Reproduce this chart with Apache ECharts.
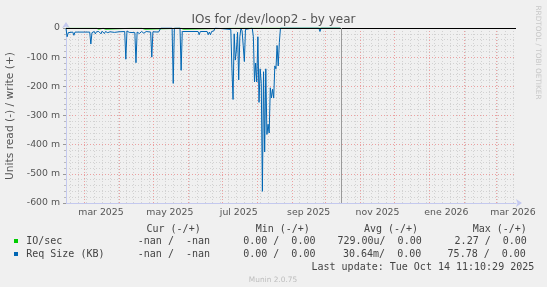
<!DOCTYPE html>
<html><head><meta charset="utf-8">
<script src="https://cdn.jsdelivr.net/npm/echarts@6/dist/echarts.min.js"></script>
<style>html,body{margin:0;padding:0;background:#f0f0f0}#c{width:547px;height:287px}</style>
</head><body><div id="c"></div>
<script>
// ---- data ----
const monthStarts = ['2025-03-01','2025-04-01','2025-05-01','2025-06-01','2025-07-01','2025-08-01','2025-09-01','2025-10-01','2025-11-01','2025-12-01','2026-01-01','2026-02-01','2026-03-01'];
const tickDates = ['2025-03-16','2025-05-16','2025-07-16','2025-09-16','2025-11-16','2026-01-16','2026-03-16'];
const tickLabels = ['mar 2025','may 2025','jul 2025','sep 2025','nov 2025','ene 2026','mar 2026'];
const yTicks = [-600,-500,-400,-300,-200,-100,0];
const nowDate = '2025-10-14T11:10:29';
const xStart = '2025-02-13T00:00:00';
const xEnd = '2026-03-18T16:00:00';

// Req Size (KB), read side (negative), in milli units
const reqDates = ['2025-02-13','2025-02-14','2025-02-15','2025-02-16','2025-02-19','2025-02-20','2025-02-21','2025-03-01','2025-03-06','2025-03-07','2025-03-08','2025-03-10','2025-03-11','2025-03-12','2025-03-13','2025-03-14','2025-03-16','2025-03-17','2025-03-19','2025-03-20','2025-03-22','2025-03-24','2025-03-28','2025-04-01','2025-04-06','2025-04-07','2025-04-08','2025-04-10','2025-04-15','2025-04-16','2025-04-17','2025-04-19','2025-04-21','2025-04-23','2025-04-25','2025-04-29','2025-04-30','2025-05-01','2025-05-06','2025-05-07','2025-05-08','2025-05-18','2025-05-19','2025-05-20','2025-05-25','2025-05-26','2025-05-27','2025-06-10','2025-06-11','2025-06-12','2025-06-18','2025-06-19','2025-06-20','2025-06-21','2025-06-22','2025-06-24','2025-06-25','2025-07-09'];
const reqValues = [-2,-30,-16,-14,-14,-25,-14,-14,-14,-55,-16,-12,-20,-13,-18,-12,-20,-11,-19,-12,-16,-13,-15,-13,-12,-107,-10,-15,-16,-119,-14,-19,-12,-18,-12,-14,-100,-13,-14,-8,0,0,-190,0,0,-145,-12,-12,-23,-12,-12,-23,-14,-23,-12,-10,0,-5];
const burstDates = ['2025-07-10','2025-07-11','2025-07-12','2025-07-13','2025-07-14','2025-07-15','2025-07-16','2025-07-17','2025-07-18','2025-07-19','2025-07-20','2025-07-21','2025-07-22','2025-07-23','2025-07-28','2025-07-29','2025-07-30','2025-07-31','2025-08-01','2025-08-02','2025-08-03','2025-08-04','2025-08-05','2025-08-06','2025-08-07','2025-08-08','2025-08-09','2025-08-10','2025-08-11','2025-08-12','2025-08-13','2025-08-14','2025-08-15','2025-08-16','2025-08-17','2025-08-18','2025-08-19','2025-08-20','2025-08-21','2025-08-22','2025-09-25','2025-09-26','2025-09-27','2025-10-14'];
const burstValues = [-140,-245,-20,-110,-75,-15,-178,-30,0,-10,-60,-115,-5,0,0,-30,-185,-120,-185,-30,-255,-140,-190,-560,-150,-425,-140,-365,-330,-360,-205,-240,-210,-240,-130,-140,-60,-130,-50,0,0,-12,0,0];

// IO/sec, read side (negative), in milli units
const ioDates = ['2025-02-13','2025-03-12','2025-03-13','2025-03-14','2025-03-15','2025-03-18','2025-03-19','2025-03-20','2025-03-21','2025-04-12','2025-04-13','2025-04-14','2025-04-17','2025-04-18','2025-04-19','2025-04-21','2025-04-22','2025-04-24','2025-04-25','2025-05-26','2025-05-27','2025-05-28','2025-05-29','2025-07-09','2025-07-10','2025-07-11','2025-10-14'];
const ioValues = [-1,-1,-4,-4,-1,-1,-4,-4,-1,-1,-4,-1,-1,-5,-1,-1,-4,-4,-1,-1,-4,-4,-1,-1,-5,-1,0];

// ---- build ----
const T = s => Date.parse(s.length === 10 ? s + 'T00:00:00Z' : s + 'Z');
const DAY = 86400000;
const labelMap = {};
tickDates.forEach((d, i) => { labelMap[T(d)] = tickLabels[i]; });
const weekLines = [];
for (let w = T('2025-02-17'); w < T(xEnd); w += 7 * DAY) weekLines.push(w);
const reqData = reqDates.map((d, i) => [T(d), reqValues[i]]).concat(burstDates.map((d, i) => [T(d), burstValues[i]]));

const mono = '"DejaVu Sans Mono", monospace';
const sans = '"DejaVu Sans", sans-serif';
const txtC = '#444';
const lg = (text, x, y) => ({ type: 'text', x: x, y: y, style: { text: text, font: '10px ' + mono, fill: txtC, align: 'left', verticalAlign: 'middle' } });

const chart = echarts.init(document.getElementById('c'), null, { renderer: 'canvas' });
chart.setOption({
  animation: false,
  backgroundColor: '#f0f0f0',
  grid: { left: 66, right: 31, top: 28, bottom: 84, containLabel: false, outerBoundsMode: 'none' },
  xAxis: {
    type: 'value', min: T(xStart), max: T(xEnd),
    axisLine: { show: true, onZero: false, lineStyle: { color: '#c4c9ef', width: 1 }, symbol: ['none', 'arrow'], symbolSize: [6, 6], symbolOffset: [0, 6] },
    axisTick: { show: false },
    splitLine: { show: false },
    axisLabel: { customValues: tickDates.map(T), formatter: v => labelMap[v] || '', fontSize: 9.33, fontFamily: sans, color: '#555', margin: 5 }
  },
  yAxis: {
    type: 'value', min: yTicks[0], max: yTicks[yTicks.length - 1], interval: 100,
    axisLine: { show: true, onZero: false, lineStyle: { color: '#c4c9ef', width: 1 }, symbol: ['none', 'arrow'], symbolSize: [6, 6], symbolOffset: [0, 6] },
    axisTick: { show: true, length: 3, lineStyle: { color: '#999' } },
    minorTick: { show: true, splitNumber: 5, length: 2, lineStyle: { color: '#bbb' } },
    splitLine: { show: true, lineStyle: { color: '#eba0a0', type: [1, 2] } },
    minorSplitLine: { show: true, lineStyle: { color: '#d2d2d2', type: [1, 2] } },
    axisLabel: { formatter: v => v === 0 ? '0' : v + ' m', fontSize: 9.33, fontFamily: sans, color: '#555', margin: 6 }
  },
  series: [
    {
      name: 'IO/sec', type: 'line', z: 2, symbol: 'none', silent: true,
      data: ioDates.map((d, i) => [T(d), ioValues[i]]),
      lineStyle: { color: '#00cc00', width: 1 }, itemStyle: { color: '#00cc00' },
      markLine: {
        silent: true, symbol: 'none', z: 1, animation: false, label: { show: false },
        data: [
          ...weekLines.map(w => ({ xAxis: w, lineStyle: { color: '#d2d2d2', type: [1, 2], width: 1 } })),
          ...monthStarts.map(d => ({ xAxis: T(d), lineStyle: { color: '#eba0a0', type: [1, 2], width: 1 } }))
        ]
      }
    },
    {
      name: 'Req Size (KB)', type: 'line', z: 3, symbol: 'none', silent: true,
      data: reqData,
      lineStyle: { color: '#0066b3', width: 1 }, itemStyle: { color: '#0066b3' },
      markLine: {
        silent: true, symbol: 'none', z: 4, animation: false, label: { show: false },
        data: [
          { yAxis: 0, lineStyle: { color: '#000', type: 'solid', width: 1 } },
          { xAxis: T(nowDate), lineStyle: { color: '#999', type: 'solid', width: 1 } }
        ]
      }
    }
  ],
  graphic: [
    { type: 'text', x: 273.5, y: 19.5, style: { text: 'IOs for /dev/loop2 - by year', font: '12px ' + sans, fill: '#555', align: 'center', verticalAlign: 'middle' } },
    { type: 'text', x: 10, y: 116, rotation: Math.PI / 2, style: { text: 'Units read (-) / write (+)', font: '10.67px ' + sans, fill: '#555', align: 'center', verticalAlign: 'middle' } },
    { type: 'text', x: 537.5, y: 52.5, rotation: -Math.PI / 2, style: { text: 'RRDTOOL / TOBI OETIKER', font: '7.3px ' + sans, fill: '#c8c8c8', align: 'center', verticalAlign: 'middle' } },
    lg('Cur (-/+)', 146.5, 229.2), lg('Min (-/+)', 255.7, 229.2), lg('Avg (-/+)', 363.9, 229.2), lg('Max (-/+)', 472.7, 229.2),
    { type: 'rect', shape: { x: 14, y: 239, width: 4, height: 4 }, style: { fill: '#00cc00' } },
    lg('IO/sec', 26.2, 241.4), lg('-nan /  -nan', 137.8, 241.4), lg('0.00 /  0.00', 243.2, 241.4), lg('729.00u/  0.00', 337.4, 241.4), lg('2.27 /  0.00', 454.6, 241.4),
    { type: 'rect', shape: { x: 14, y: 252, width: 4, height: 4 }, style: { fill: '#0066b3' } },
    lg('Req Size (KB)', 26.2, 254.3), lg('-nan /  -nan', 137.8, 254.3), lg('0.00 /  0.00', 243.2, 254.3), lg('30.64m/  0.00', 343, 254.3), lg('75.78 /  0.00', 447.6, 254.3),
    lg('Last update: Tue Oct 14 11:10:29 2025', 311.5, 267.2),
    { type: 'text', x: 273, y: 280, style: { text: 'Munin 2.0.75', font: '7.4px ' + sans, fill: '#bdbdbd', align: 'center', verticalAlign: 'middle' } }
  ]
});
</script>
</body></html>
